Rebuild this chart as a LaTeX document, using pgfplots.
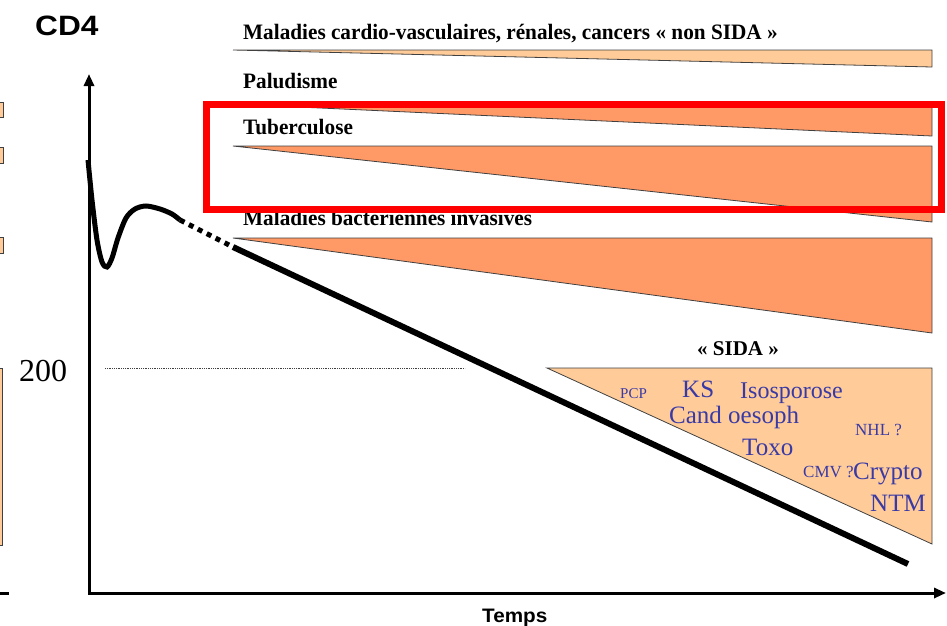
\documentclass[border=0pt]{standalone}
\usepackage{pgfplots}
\pgfplotsset{compat=1.18}
\usetikzlibrary{arrows.meta}
\usepackage{graphicx}
\usepackage{fontspec}
\setmainfont{Liberation Serif}
\setsansfont{Liberation Sans}
\definecolor{lightor}{HTML}{FFCC99}
\definecolor{darkor}{HTML}{FF9966}
\definecolor{sidablue}{HTML}{3A3AA6}
\definecolor{edge}{HTML}{404040}
\newcommand{\fs}[1]{\fontsize{#1}{#1}\selectfont}
\newcommand{\lbl}[1]{\scalebox{0.965}[1]{\bfseries\fs{22}#1}}

\begin{document}
\begin{tikzpicture}[every node/.style={inner sep=0pt}]
\begin{axis}[scale only axis, width=947pt, height=625pt,
  xmin=0, xmax=947, ymin=0, ymax=625, y dir=reverse,
  hide axis, clip=true]
\addplot[draw=none] coordinates {(0,0)(947,625)};

% wedges (left tip, right top, right bottom)
\addplot[fill=lightor, draw=edge, line width=0.8pt] coordinates {(233,50)(932,50)(932,67)} -- cycle;
\addplot[fill=darkor, draw=edge, line width=0.8pt] coordinates {(233,104)(932,104)(932,136)} -- cycle;
\addplot[fill=darkor, draw=edge, line width=0.8pt] coordinates {(233,146)(932,146)(932,222)} -- cycle;
\addplot[fill=darkor, draw=edge, line width=0.8pt] coordinates {(233,238)(932,238)(932,333)} -- cycle;
\addplot[fill=lightor, draw=edge, line width=0.8pt] coordinates {(547,368)(932,368)(932,544)} -- cycle;

% bits of the neighbouring slide at the left edge
\addplot[fill=lightor, draw=edge, line width=0.8pt] coordinates {(-5,102)(3,102)(3,117)(-5,117)} -- cycle;
\addplot[fill=lightor, draw=edge, line width=0.8pt] coordinates {(-5,147)(3,147)(3,163)(-5,163)} -- cycle;
\addplot[fill=lightor, draw=edge, line width=0.8pt] coordinates {(-5,237)(3,237)(3,253)(-5,253)} -- cycle;
\addplot[fill=lightor, draw=edge, line width=0.8pt] coordinates {(-5,368)(2,368)(2,545)(-5,545)} -- cycle;
\addplot[line width=3pt] coordinates {(0,593)(9,593)};

% axes
\addplot[line width=3pt, {Triangle[width=10pt,length=12pt]}-{Triangle[width=10pt,length=12pt]}]
  coordinates {(89,74)(89,593)(946,593)};

% CD4 = 200
\addplot[densely dotted, line width=0.8pt, black!75] coordinates {(105,368)(465,368)};

% CD4 curve
\addplot[smooth, line width=5pt] coordinates {
  (88,160)(92,200)(97,240)(102,262)(107,267)(112,258)(118,238)(126,218)
  (135,209)(146,206)(160,209)(172,214)(180,220)};
\addplot[line width=5pt, dash pattern=on 5pt off 5pt] coordinates {(180,220)(233,247)};
\addplot[line width=6pt] coordinates {(233,247)(908,564)};

% labels
\node[anchor=base west] at (35,35) {\scalebox{1.13}[1]{\sffamily\bfseries\fs{28}CD4}};
\node[anchor=base west] at (482,622) {\scalebox{1.06}[1]{\sffamily\bfseries\fs{19.5}Temps}};
\node[anchor=base west, font=\fs{32}] at (19,381) {200};

\node[anchor=base west] at (243,39) {\lbl{Maladies cardio-vasculaires, rénales, cancers «~non SIDA~»}};
\node[anchor=base west] at (243,88) {\lbl{Paludisme}};
\node[anchor=base west] at (243,134) {\lbl{Tuberculose}};
\node[anchor=base west] at (243,225) {\lbl{Maladies bactériennes invasives}};
\node[anchor=base west, font=\bfseries\fs{21}] at (697,355) {«~SIDA~»};

\node[anchor=base west, text=sidablue, font=\fs{15}] at (620,398) {PCP};
\node[anchor=base west, text=sidablue, font=\fs{25}] at (682,397) {KS};
\node[anchor=base west, text=sidablue, font=\fs{24}] at (740,398) {Isosporose};
\node[anchor=base west, text=sidablue, font=\fs{25}] at (669,423) {Cand oesoph};
\node[anchor=base west, text=sidablue, font=\fs{17}] at (855,435) {NHL ?};
\node[anchor=base west, text=sidablue, font=\fs{25}] at (742,455) {Toxo};
\node[anchor=base west, text=sidablue, font=\fs{17}] at (803,477) {CMV ?};
\node[anchor=base west, text=sidablue, font=\fs{25}] at (853,479) {Crypto};
\node[anchor=base west, text=sidablue, font=\fs{25}] at (870,511) {NTM};

% highlight frame
\addplot[draw=red, line width=7pt] coordinates {(206.5,104)(941.5,104)(941.5,209)(206.5,209)} -- cycle;
\end{axis}
\end{tikzpicture}
\end{document}
